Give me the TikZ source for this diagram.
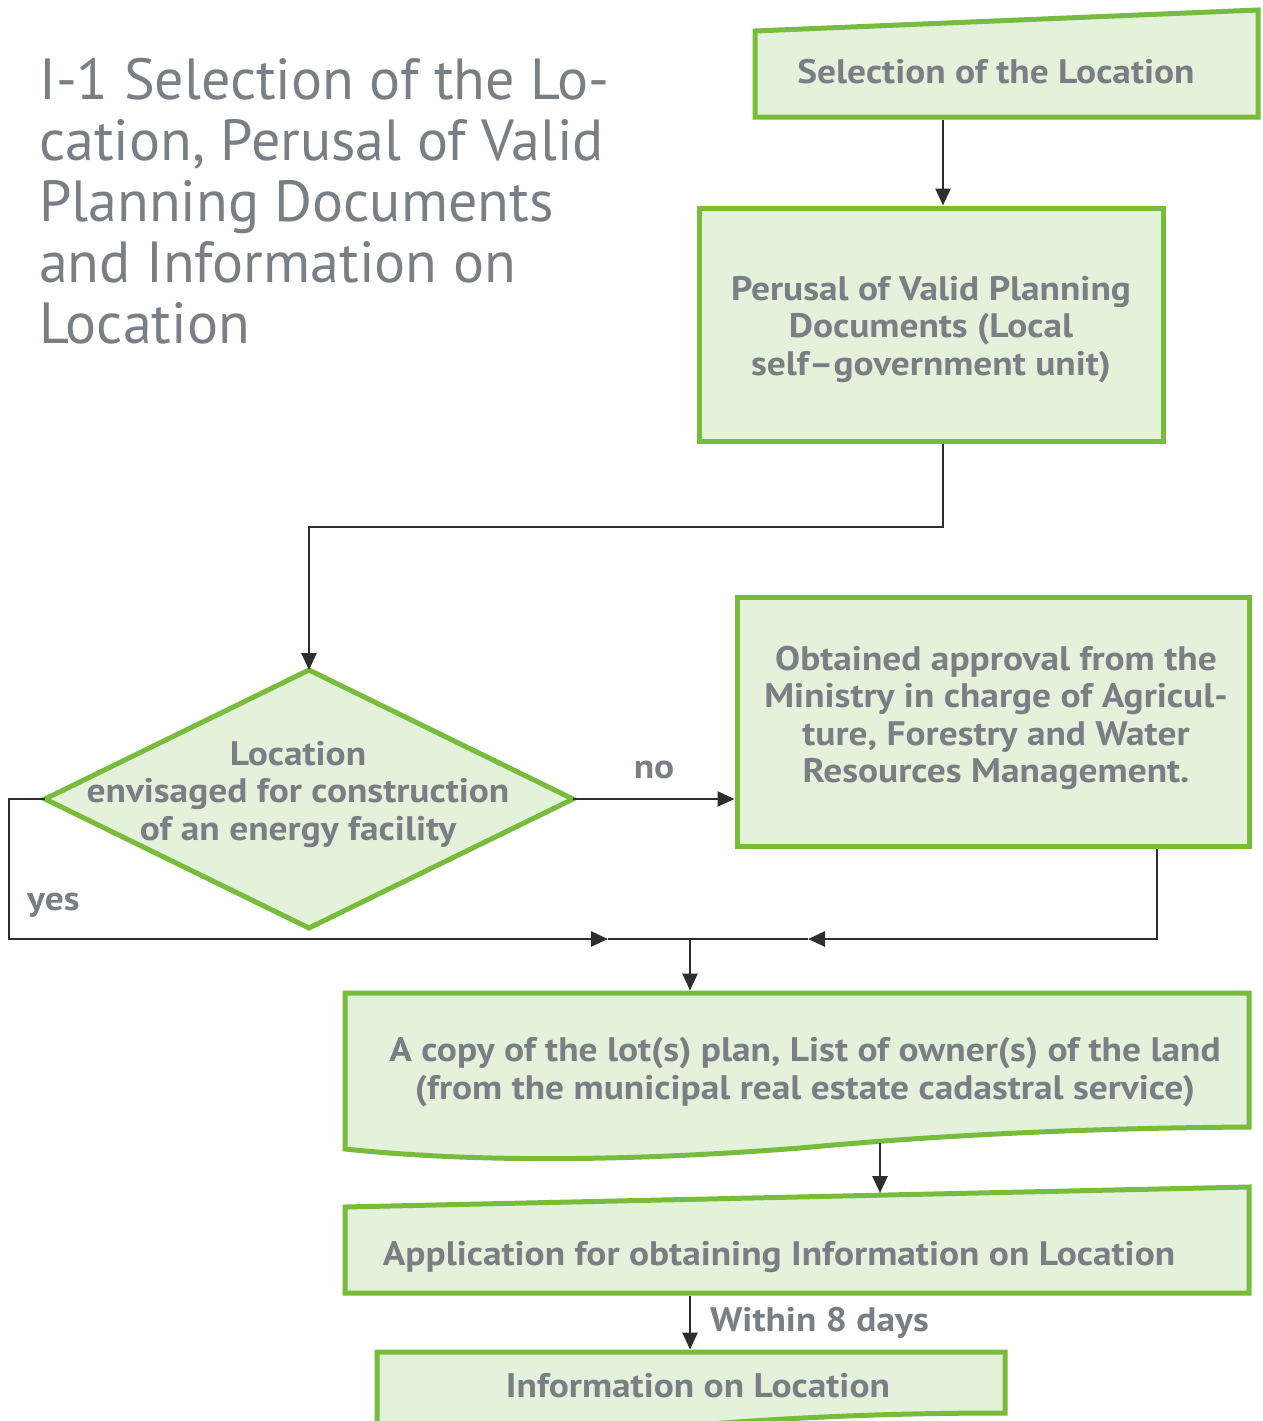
\documentclass[tikz,border=0pt]{standalone}
\usepackage{fontspec}
\setmainfont{PT Sans}
\newfontfamily\boxface{PT Sans}[FakeStretch=1.1]
\usetikzlibrary{arrows.meta}
\definecolor{leaf}{HTML}{77BC3B}
\definecolor{leaffill}{HTML}{E4F1DB}
\definecolor{ink}{HTML}{7A7E85}
\definecolor{wire}{HTML}{2E2D30}
\newcommand{\boxfont}{\boxface\bfseries\fontsize{34}{37.5}\selectfont}
\newcommand{\headfont}{\fontsize{58}{61}\selectfont}
\begin{document}
\begin{tikzpicture}[x=1pt,y=-1pt,
  panel/.style={draw=leaf, fill=leaffill, line width=5pt, inner sep=0pt},
  shapeline/.style={draw=leaf, fill=leaffill, line width=5pt, line join=miter},
  label/.style={text=ink, font=\boxfont, inner sep=0pt, align=center},
  wire/.style={draw=wire, line width=2.6pt},
  flow/.style={wire, -{Triangle[length=17pt,width=15pt]}}]
\useasboundingbox (0,0) rectangle (1262,1421);

% heading
\node[text=ink, font=\headfont, align=left, anchor=west, inner sep=0pt] (heading) at (39,201)
  {I-1 Selection of the Lo-\\cation, Perusal of Valid\\Planning Documents\\and Information on\\Location};

% selection of the location (manual input shape)
\path[shapeline] (755,117) -- (755,31) -- (1258,10) -- (1258,117) -- cycle;
\node[label, anchor=base] (selection) at (996,83) {Selection of the Location};
\coordinate (selectionOut) at (943,119.5);

% perusal of planning documents
\node[panel, minimum width=464, minimum height=233] (perusal) at (931,324.5) {};
\node[label] (perusalText) at (931,329.5) {Perusal of Valid Planning\\Documents (Local\\self–government unit)};

% decision diamond
\coordinate (dLeft) at (45,799);
\coordinate (dTop) at (309,670);
\coordinate (dRight) at (573,799);
\coordinate (dBottom) at (309,928);
\path[shapeline] (dLeft) -- (dTop) -- (dRight) -- (dBottom) -- cycle;
\node[label] (question) at (298,794.5) {Location\\envisaged for construction\\of an energy facility};

% ministry approval
\node[panel, minimum width=512, minimum height=249] (approval) at (993,721.5) {};
\node[label] (approvalText) at (996,718) {Obtained approval from the\\Ministry in charge of Agricul-\\ture, Forestry and Water\\Resources Management.};

% lot plan and owners (document shape)
\path[shapeline] (345,993) -- (1249,993) -- (1249,1127)
  .. controls (1100,1128) and (950,1134) .. (800,1148)
  .. controls (620,1162) and (470,1162) .. (345,1149) -- cycle;
\node[label] (copy) at (805,1072) {A copy of the lot(s) plan, List of owner(s) of the land\\(from the municipal real estate cadastral service)};
\coordinate (copyIn) at (690,990.5);
\coordinate (copyOut) at (880,1143);

% application (manual input shape)
\path[shapeline] (345,1293) -- (345,1207) -- (1249,1187) -- (1249,1293) -- cycle;
\node[label, anchor=base] (apply) at (779,1265) {Application for obtaining Information on Location};
\coordinate (applyIn) at (880,1193);
\coordinate (applyOut) at (690,1295.5);

% information on location (document shape)
\path[shapeline] (377,1450) -- (377,1352) -- (1005,1352) -- (1005,1413)
  .. controls (880,1413) and (760,1418) .. (620,1432)
  .. controls (520,1442) .. (377,1448) -- cycle;
\node[label, anchor=base] (info) at (698,1397) {Information on Location};
\coordinate (infoIn) at (690,1349.5);

% connectors
\coordinate (route) at (309,527);
\coordinate (yesCorner) at (9,939);
\coordinate (mergeLeft) at (608,939);
\coordinate (mergeRight) at (808,939);
\coordinate (junction) at (690,939);
\coordinate (approvalOut) at (1157,849);

\draw[flow] (selectionOut) -- (selectionOut |- perusal.north);
\draw[flow] (selectionOut |- perusal.south) |- (route) -- (dTop);
\draw[flow] (dRight) -- (approval.west |- dRight);
\draw[flow] (dLeft) -| (yesCorner) -- (mergeLeft);
\draw[flow] (approvalOut) |- (mergeRight);
\draw[wire] (mergeLeft) -- (mergeRight);
\draw[flow] (junction) -- (copyIn);
\draw[flow] (copyOut) -- (applyIn);
\draw[flow] (applyOut) -- (infoIn);

% connector labels
\node[label, anchor=base] (noLabel) at (654,778) {no};
\node[label, anchor=base west] (yesLabel) at (27,910) {yes};
\node[label, anchor=base west] (daysLabel) at (710,1331) {Within 8 days};
\end{tikzpicture}
\end{document}
